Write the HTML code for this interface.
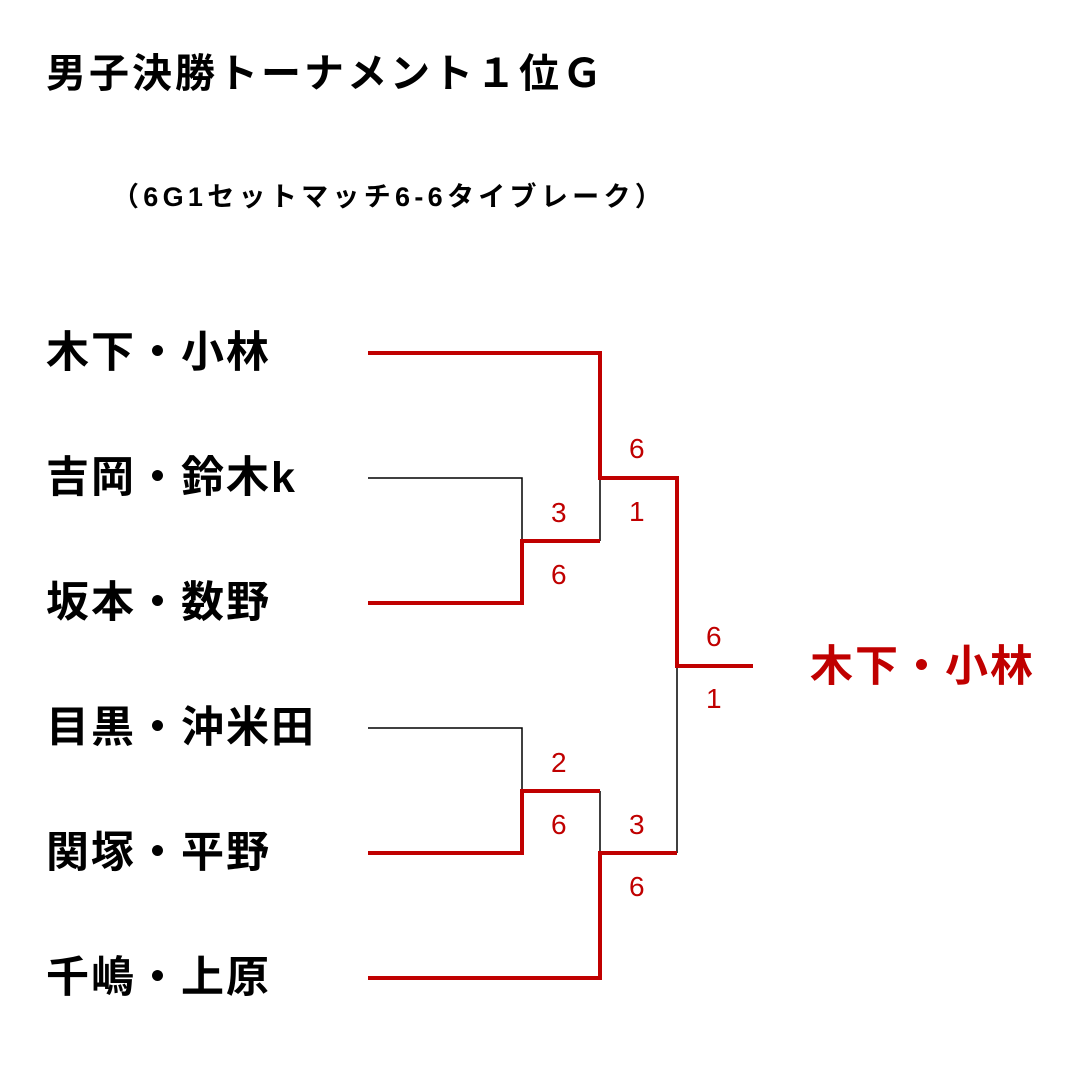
<!DOCTYPE html>
<html><head><meta charset="utf-8"><style>
body{margin:0;width:1083px;height:1072px;background:#fff;overflow:hidden;position:relative;font-family:"Liberation Sans","Noto Sans CJK JP",sans-serif}
.t{position:absolute;white-space:nowrap;line-height:1}
.n{font-size:43px;font-weight:bold;color:#000;left:46px;letter-spacing:2px}
.s{font-size:28px;color:#c00000}
</style></head><body>
<div class="t" style="left:46px;top:54px;font-size:40px;font-weight:bold;letter-spacing:3px">男子決勝トーナメント１位Ｇ</div>
<div class="t" style="left:112px;top:184px;font-size:27px;font-weight:bold;letter-spacing:4.3px">（6G1セットマッチ6-6タイブレーク）</div>
<div class="t n" style="top:332px">木下・小林</div>
<div class="t n" style="top:457px">吉岡・鈴木k</div>
<div class="t n" style="top:582px">坂本・数野</div>
<div class="t n" style="top:707px">目黒・沖米田</div>
<div class="t n" style="top:832px">関塚・平野</div>
<div class="t n" style="top:957px">千嶋・上原</div>
<div class="t" style="left:810px;top:646px;font-size:43px;font-weight:bold;color:#c00000;letter-spacing:2px">木下・小林</div>
<svg width="1083" height="1072" style="position:absolute;left:0;top:0">
<g stroke="#000" stroke-width="1.5" fill="none">
<polyline points="368,478 522,478 522,541"/>
<line x1="600" y1="478" x2="600" y2="541"/>
<polyline points="368,728 522,728 522,791"/>
<line x1="600" y1="791" x2="600" y2="853"/>
<line x1="677" y1="853" x2="677" y2="666"/>
</g>
<g stroke="#c00000" stroke-width="4" fill="none">
<polyline points="368,353 600,353 600,478 677,478 677,666 753,666"/>
<polyline points="368,603 522,603 522,541 600,541"/>
<polyline points="368,853 522,853 522,791 600,791"/>
<polyline points="368,978 600,978 600,853 677,853"/>
</g>
</svg>
<div class="t s" style="left:629px;top:435px">6</div>
<div class="t s" style="left:629px;top:498px">1</div>
<div class="t s" style="left:551px;top:499px">3</div>
<div class="t s" style="left:551px;top:561px">6</div>
<div class="t s" style="left:706px;top:623px">6</div>
<div class="t s" style="left:706px;top:685px">1</div>
<div class="t s" style="left:551px;top:749px">2</div>
<div class="t s" style="left:551px;top:811px">6</div>
<div class="t s" style="left:629px;top:811px">3</div>
<div class="t s" style="left:629px;top:873px">6</div>
</body></html>
